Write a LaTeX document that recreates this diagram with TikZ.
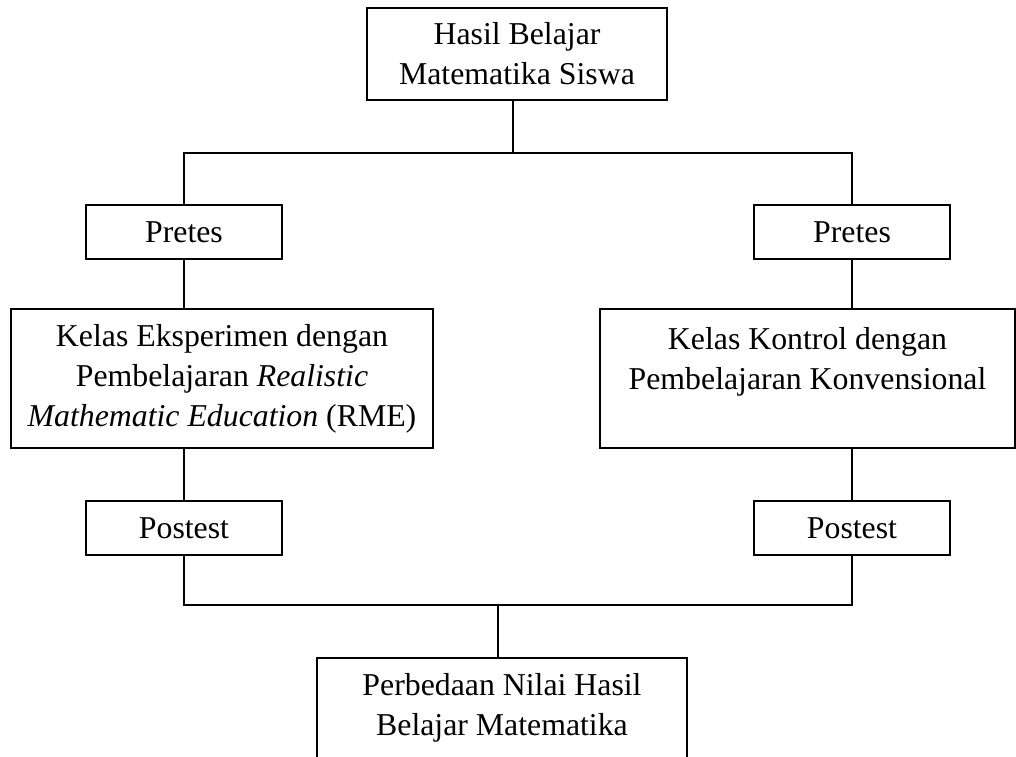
\documentclass[tikz,border=0pt]{standalone}
\usepackage{fontspec}
\setmainfont{Liberation Serif}
\usetikzlibrary{positioning}

\tikzset{
  box/.style={draw, line width=1.3pt, inner sep=0pt, align=center,
    font=\fontsize{31.8}{40}\selectfont},
  link/.style={line width=1.3pt}
}

\begin{document}
\begin{tikzpicture}[x=1pt, y=-1pt]
                \useasboundingbox (0,0) rectangle (1016,756);
                \clip (0,0) rectangle (1016,756);

                \node[box, minimum width=300pt, minimum height=92pt] (hasil) at (517,54) {Hasil Belajar\\Matematika Siswa};

                \node[box, minimum width=196pt, minimum height=54pt] (preL) at (184,232) {Pretes};
                \node[box, minimum width=196pt, minimum height=54pt] (preR) at (852,232) {Pretes};

                \node[box, minimum width=422pt, minimum height=139pt] (eksp) at (222,378.5) {Kelas Eksperimen dengan\\Pembelajaran \textit{Realistic}\\\textit{Mathematic Education} (RME)};
                \node[box, minimum width=415pt, minimum height=139pt] (kont) at (807.5,378.5) {Kelas Kontrol dengan\\Pembelajaran Konvensional\\~};

                \node[box, minimum width=196pt, minimum height=54pt] (postL) at (184,528) {Postest};
                \node[box, minimum width=196pt, minimum height=54pt] (postR) at (852,528) {Postest};

                \node[box, minimum width=370pt, minimum height=100pt] (beda) at (502,708) {Perbedaan Nilai Hasil\\Belajar Matematika};

                % junctions
                \coordinate (jtop) at (513,153);
                \coordinate (jbot) at (498,605);

                \draw[link] (hasil.south -| jtop) -- (jtop);
                \draw[link] (preL.north) |- (jtop) -| (preR.north);

                \draw[link] (preL.south) -- (preL.south |- eksp.north);
                \draw[link] (preR.south) -- (preR.south |- kont.north);

                \draw[link] (postL.north |- eksp.south) -- (postL.north);
                \draw[link] (postR.north |- kont.south) -- (postR.north);

                \draw[link] (postL.south) |- (jbot) -| (postR.south);
                \draw[link] (jbot) -- (jbot |- beda.north);
            \end{tikzpicture}
\end{document}
